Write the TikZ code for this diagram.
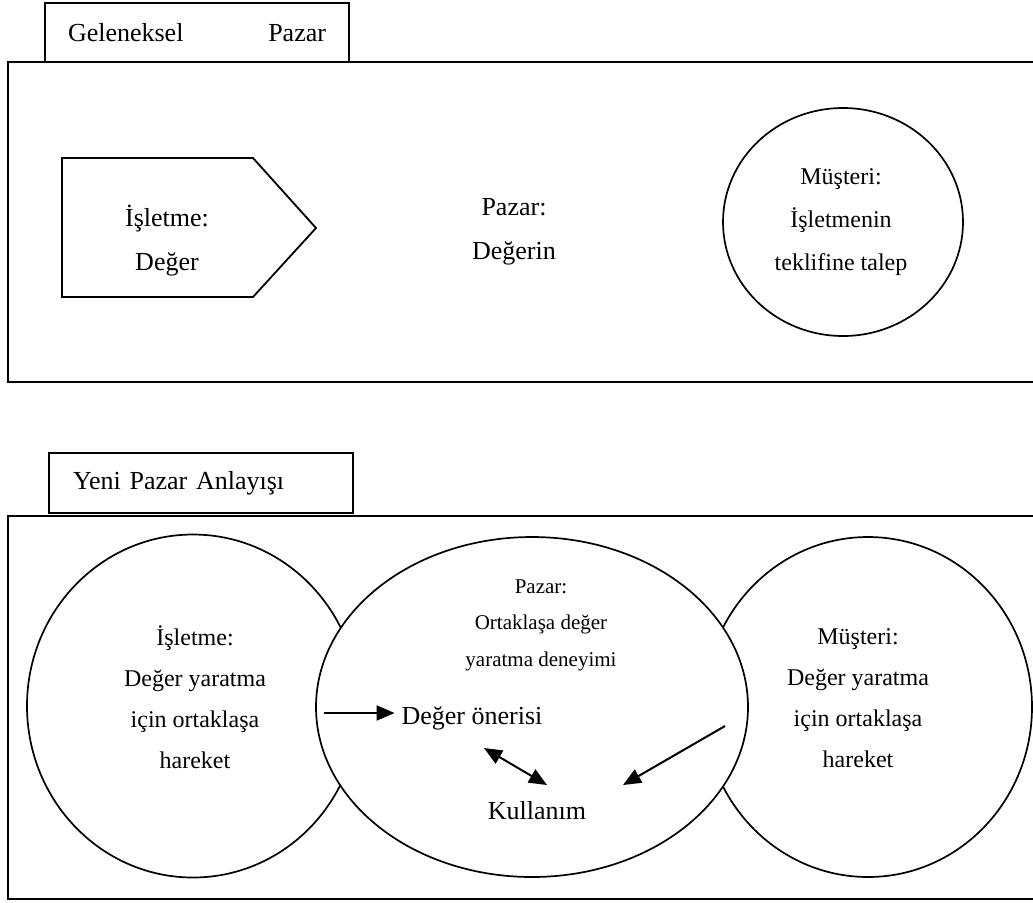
\documentclass[tikz,border=0pt]{standalone}
\usepackage{fontspec}
\setmainfont{Liberation Serif}
\usetikzlibrary{arrows.meta,shapes.geometric}

\begin{document}
\begin{tikzpicture}[x=0.5pt, y=-0.5pt,
    frame/.style={draw, line width=1.1pt},
    oval/.style={draw, ellipse, line width=0.85pt, inner sep=0pt},
    big/.style={font=\fontsize{13}{22}\selectfont, align=center},
    mid/.style={font=\fontsize{12}{20.5}\selectfont, align=center},
    small/.style={font=\fontsize{10.5}{18.3}\selectfont, align=center},
    tip/.tip={Triangle[length=9pt,width=7.5pt]},
    arr/.style={-tip, line width=1pt},
  ]
  \useasboundingbox (0,0) rectangle (1033,902);

  % Geleneksel pazar: tab and frame
  \node[frame, inner xsep=11.5pt, text width=129pt, minimum height=29.5pt,
        align=left, font=\fontsize{13}{16}\selectfont] (tab1) at (197,32.5)
        {Geleneksel\hfill Pazar};
  \draw[frame] (8,62) rectangle (1050,382);

  % Isletme as an arrow shape
  \draw[line width=0.9pt] (62,158) -- (253,158) -- (316,228) -- (253,297) -- (62,297) -- cycle;
  \node[big] (isl1) at (167,241) {İşletme:\\Değer};
  \node[big] (paz1) at (514,232) {Pazar:\\Değerin};
  \node[oval, minimum width=120pt, minimum height=114pt] (mus1) at (843,222) {};
  \node[mid, font=\fontsize{12}{21.5}\selectfont] (mus1t) at (841,222)
        {Müşteri:\\İşletmenin\\teklifine talep};

  % Yeni pazar anlayisi: tab and frame
  \node[frame, inner xsep=12pt, text width=128pt, minimum height=30pt,
        align=left, font=\fontsize{13}{16}\selectfont] (tab2) at (201,483)
        {Yeni Pazar Anlayışı};
  \draw[frame] (8,516) rectangle (1050,899);

  % Three ovals, the middle one drawn last and filled so it hides the others
  \node[oval, minimum width=166pt, minimum height=171.5pt] (isl2) at (193,706) {};
  \node[oval, minimum width=164pt, minimum height=170pt] (mus2) at (868,707) {};
  \node[oval, fill=white, minimum width=216pt, minimum height=170pt] (paz2) at (532,707) {};

  \node[mid] (isl2t) at (195,697) {İşletme:\\Değer yaratma\\için ortaklaşa\\hareket};
  \node[mid] (mus2t) at (858,698) {Müşteri:\\Değer yaratma\\için ortaklaşa\\hareket};
  \node[small] (paz2t) at (541,625) {Pazar:\\Ortaklaşa değer\\yaratma deneyimi};
  \node[big] (oneri) at (472,718) {Değer önerisi};
  \node[big] (kul) at (537,811) {Kullanım};

  % Arrows
  \coordinate (a1) at (324,713);
  \draw[arr] (a1) -- (a1 -| oneri.west);
  \coordinate (b1) at (484,748);
  \coordinate (b2) at (547,785);
  \draw[arr, tip-tip] (b1) -- (b2);
  \coordinate (c1) at (725,726);
  \coordinate (c2) at (623,785);
  \draw[arr] (c1) -- (c2);
\end{tikzpicture}
\end{document}
